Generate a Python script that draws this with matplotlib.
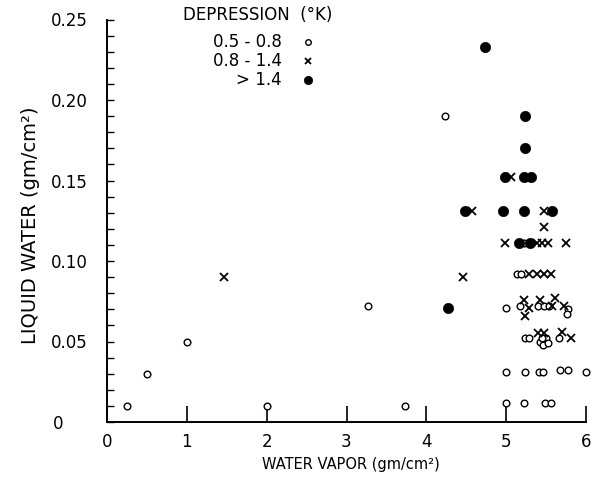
import matplotlib
matplotlib.use("Agg")
import matplotlib.pyplot as plt
from matplotlib.ticker import MultipleLocator, FixedLocator

# ---- data: depression 0.5-0.8 (open circles)
low_x = [0.25, 0.5, 1.0, 2.0, 3.27, 3.73, 4.24,
         5.0, 5.17, 5.14, 5.19, 5.22,
         5.40, 5.47, 5.54, 5.77, 5.76,
         5.23, 5.28, 5.42, 5.46, 5.50, 5.52, 5.45, 5.66,
         5.0, 5.24, 5.41, 5.46, 5.67, 5.77, 6.0,
         5.0, 5.22, 5.49, 5.56]
low_y = [0.01, 0.03, 0.05, 0.01, 0.072, 0.01, 0.19,
         0.071, 0.072, 0.092, 0.092, 0.111,
         0.072, 0.072, 0.072, 0.070, 0.067,
         0.052, 0.052, 0.050, 0.048, 0.052, 0.049, 0.052, 0.052,
         0.031, 0.031, 0.031, 0.031, 0.032, 0.032, 0.031,
         0.012, 0.012, 0.012, 0.012]

# ---- depression 0.8-1.4 (crosses)
mid_x = [1.47, 4.46, 4.57, 5.06, 5.47, 5.47,
         4.98, 5.39, 5.45, 5.53, 5.75,
         5.29, 5.39, 5.47, 5.56,
         5.22, 5.29, 5.24, 5.43, 5.61, 5.58, 5.73,
         5.40, 5.47, 5.70, 5.81]
mid_y = [0.09, 0.09, 0.131, 0.152, 0.131, 0.121,
         0.111, 0.111, 0.111, 0.111, 0.111,
         0.092, 0.092, 0.092, 0.092,
         0.076, 0.071, 0.066, 0.076, 0.077, 0.072, 0.072,
         0.055, 0.055, 0.056, 0.052]

# ---- depression > 1.4 (filled circles)
high_x = [4.74, 5.24, 5.23, 4.98, 5.22, 5.31,
          4.49, 4.96, 5.22, 5.58, 5.16, 5.30, 4.27]
high_y = [0.233, 0.19, 0.17, 0.152, 0.152, 0.152,
          0.131, 0.131, 0.131, 0.131, 0.111, 0.111, 0.071]

legend_title = "DEPRESSION  (°K)"
legend_labels = ["0.5 - 0.8", "0.8 - 1.4", "> 1.4"]

x_ticks = [0, 1, 2, 3, 4, 5, 6]
x_ticklabels = ["0", "1", "2", "3", "4", "5", "6"]
y_ticks = [0, 0.05, 0.10, 0.15, 0.20, 0.25]
y_ticklabels = ["0", "0.05", "0.10", "0.15", "0.20", "0.25"]

plt.rcParams['font.family'] = ['DejaVu Sans']

fig = plt.figure(figsize=(5.97, 4.82), dpi=100)
ax = fig.add_axes([107/597, 60/482, 479/597, 402.5/482])

open_kw = dict(marker='o', ms=4.8, mfc='white', mec='black', mew=1.0, ls='none', clip_on=False)
x_kw = dict(marker='x', ms=5.3, mec='black', mew=1.3, ls='none', clip_on=False)
fill_kw = dict(marker='o', ms=7.4, mfc='black', mec='black', mew=0.5, ls='none', clip_on=False)

ax.plot(low_x, low_y, **open_kw)
ax.plot(mid_x, mid_y, **x_kw)
ax.plot(high_x, high_y, **fill_kw)

ax.set_xlim(0, 6)
ax.set_ylim(0, 0.25)
for s in ['top', 'right']:
    ax.spines[s].set_visible(False)
for s in ['left', 'bottom']:
    ax.spines[s].set_linewidth(1.4)

ax.xaxis.set_major_locator(FixedLocator(x_ticks))
ax.set_xticklabels(x_ticklabels)
ax.yaxis.set_major_locator(FixedLocator(y_ticks))
ax.set_yticklabels(y_ticklabels)
ax.yaxis.set_minor_locator(MultipleLocator(0.01))

ax.tick_params(axis='x', direction='in', length=11.5, width=1.2, pad=8, labelsize=12)
ax.tick_params(axis='y', which='both', direction='in', length=5, width=1.0, pad=14, labelsize=12)

# shift the "0" label on the y axis
ax.get_yticklabels()[0].set_x(-0.05)

ax.set_xlabel("WATER VAPOR (gm/cm²)", fontsize=10.5)
ax.xaxis.set_label_coords(0.51, -0.088)
ax.set_ylabel("LIQUID WATER (gm/cm²)", fontsize=14)
ax.yaxis.set_label_coords(-0.14, 0.49)

# legend block
ax.text(0.159, 1.011, legend_title, transform=ax.transAxes, ha='left', va='center', fontsize=12)
ys = [0.944, 0.897, 0.850]
kws = [dict(open_kw, ms=4.0), dict(x_kw, ms=4.5), dict(fill_kw, ms=6.0)]
for lab, yy, kw in zip(legend_labels, ys, kws):
    ax.text(0.365, yy, lab, transform=ax.transAxes, ha='right', va='center', fontsize=12)
    ax.plot([0.42], [yy], transform=ax.transAxes, **kw)

fig.savefig("out.png", dpi=100)
